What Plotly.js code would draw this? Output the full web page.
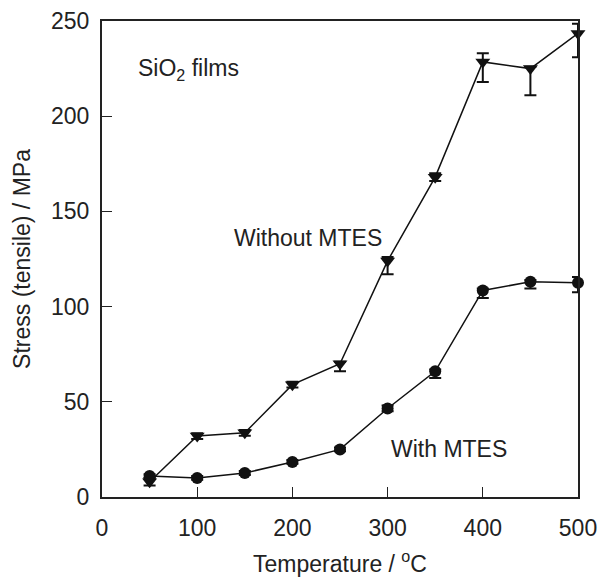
<!DOCTYPE html>
<html>
<head>
<meta charset="utf-8">
<script src="https://cdn.plot.ly/plotly-3.0.1.min.js"></script>
<style>html,body{margin:0;padding:0;background:#fff;}#chart{width:598px;height:577px;}</style>
</head>
<body>
<div id="chart"></div>
<script>
// Temperature (°C)
const temperature = [50, 100, 150, 200, 250, 300, 350, 400, 450, 500];

// Without MTES stress (MPa) with asymmetric error bars
const withoutMTES = [8, 32, 33.7, 59, 70, 124, 168, 228.5, 225, 243.5];
const withoutErrPlus = [2, 1.5, 1.5, 1.5, 1, 2, 2, 4.5, 1, 5];
const withoutErrMinus = [2, 1.5, 1.5, 1.5, 4, 7, 2, 10.5, 14, 12.5];

// With MTES stress (MPa)
const withMTES = [11, 10, 12.6, 18.4, 25, 46.5, 66, 108.5, 113, 112.5];
const withErrPlus = [1, 1, 1, 1, 1, 1.5, 1, 1, 1, 3];
const withErrMinus = [1, 1, 1, 1, 1, 1.5, 3.5, 4, 3.5, 5];

const xTicks = [0, 100, 200, 300, 400, 500];
const yTicks = [0, 50, 100, 150, 200, 250];

const FONT = 'Liberation Sans, Arial, Helvetica, sans-serif';
const FS = 23;

const traces = [
  {
    x: temperature, y: withoutMTES, type: 'scatter', mode: 'lines+markers',
    name: 'Without MTES',
    line: {color: '#111', width: 1.5},
    marker: {symbol: 'triangle-down', size: 13, color: '#111'},
    error_y: {type: 'data', symmetric: false, array: withoutErrPlus, arrayminus: withoutErrMinus,
              color: '#111', thickness: 2, width: 6},
    cliponaxis: false
  },
  {
    x: temperature, y: withMTES, type: 'scatter', mode: 'lines+markers',
    name: 'With MTES',
    line: {color: '#111', width: 1.5},
    marker: {symbol: 'circle', size: 12, color: '#111'},
    error_y: {type: 'data', symmetric: false, array: withErrPlus, arrayminus: withErrMinus,
              color: '#111', thickness: 2, width: 6},
    cliponaxis: false
  }
];

const layout = {
  width: 598, height: 577,
  margin: {l: 102, r: 20, t: 21, b: 80},
  paper_bgcolor: '#fff', plot_bgcolor: '#fff',
  showlegend: false,
  font: {family: FONT, size: FS, color: '#222'},
  xaxis: {
    range: [0, 500], tickvals: xTicks, ticktext: xTicks.map(String),
    ticks: 'inside', ticklen: 10, tickwidth: 1, tickcolor: '#222',
    showline: true, linewidth: 2, linecolor: '#222', mirror: true,
    showgrid: false, zeroline: false,
    ticklabelstandoff: 9,
    tickfont: {family: FONT, size: FS, color: '#222'},
    title: {text: 'Temperature / <sup>o</sup>C', font: {family: FONT, size: FS, color: '#222'}, standoff: 16}
  },
  yaxis: {
    range: [0, 250], tickvals: yTicks, ticktext: yTicks.map(String),
    ticks: 'inside', ticklen: 10, tickwidth: 1, tickcolor: '#222',
    showline: true, linewidth: 2, linecolor: '#222', mirror: true,
    showgrid: false, zeroline: false,
    ticklabelstandoff: 6,
    tickfont: {family: FONT, size: FS, color: '#222'},
    title: {text: 'Stress (tensile) / MPa', font: {family: FONT, size: FS, color: '#222'}, standoff: 14}
  },
  annotations: [
    {x: 35.7, y: 224.7, xref: 'x', yref: 'y', xanchor: 'left', yanchor: 'middle', showarrow: false,
     text: 'SiO<sub>2</sub> films', font: {family: FONT, size: FS, color: '#222'}},
    {x: 136.5, y: 135.8, xref: 'x', yref: 'y', xanchor: 'left', yanchor: 'middle', showarrow: false,
     text: 'Without MTES', font: {family: FONT, size: FS, color: '#222'}},
    {x: 301.5, y: 25.3, xref: 'x', yref: 'y', xanchor: 'left', yanchor: 'middle', showarrow: false,
     text: 'With MTES', font: {family: FONT, size: FS, color: '#222'}}
  ]
};

Plotly.newPlot('chart', traces, layout, {displayModeBar: false, staticPlot: true});
</script>
</body>
</html>
